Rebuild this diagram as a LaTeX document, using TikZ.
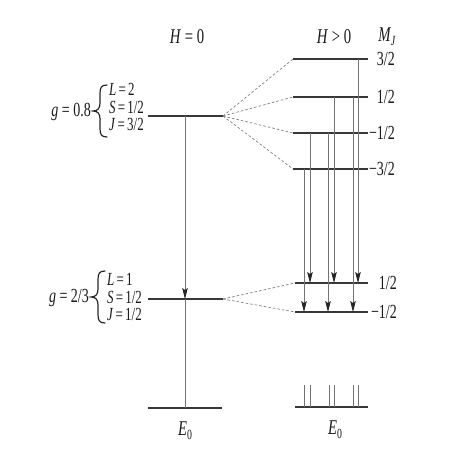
\documentclass[tikz,border=0pt]{standalone}
\usepackage{fontspec}
\setmainfont[FakeStretch=0.7]{Liberation Serif}
\usetikzlibrary{arrows.meta}
\newcommand{\subsc}[1]{\raisebox{-0.4ex}{\fontsize{14}{14}\selectfont #1}}
\newcommand{\eqs}{\kern0.12em=\kern0.12em}
\begin{document}
\begin{tikzpicture}[x=1pt,y=-1pt,
  every node/.style={inner sep=0pt, text=black!90, font=\fontsize{20}{15}\selectfont},
  big/.style={font=\fontsize{21}{16}\selectfont},
  rows/.style={font=\fontsize{18.5}{16}\selectfont},
  lvl/.style={line width=1.4pt, draw=black!78},
  vline/.style={line width=0.7pt, draw=black!55},
  trans/.style={vline, -{Stealth[length=11pt,width=5.5pt,inset=2pt,color=black!85]}},
  link/.style={line width=0.7pt, draw=black!50, dash pattern=on 2.6pt off 2pt},
  tick/.style={line width=0.7pt, draw=black!55},
  qn/.style={rows, anchor=base west},
  pics/curlybrace/.style={code={
    \draw[line width=1.2pt, black!85, line cap=round]
      (7,-26) .. controls (1,-26) and (0,-23) .. (0,-17) -- (0,-8)
      .. controls (0,-3) and (-2,0) .. (-7,0)
      .. controls (-2,0) and (0,3) .. (0,8) -- (0,17)
      .. controls (0,23) and (1,26) .. (7,26);
  }}
]
\useasboundingbox (0,0) rectangle (459,454);

% ---- left column (H = 0)
\coordinate (uL) at (148,116); \coordinate (uR) at (223,116);
\coordinate (lL) at (148,299); \coordinate (lR) at (223,299);
\coordinate (eL) at (148,408); \coordinate (eR) at (222,408);
\coordinate (lv) at (185,116);
\draw[lvl] (uL) -- (uR);
\draw[lvl] (lL) -- (lR);
\draw[lvl] (eL) -- (eR);
\draw[trans] (lv) -- (lv |- lL);
\draw[vline] (lv |- lL) -- (lv |- eL);

\node[big, anchor=base] (h0) at (187,44) {\textit{H} = 0};
\node[big] (e0a) at (185,431) {\textit{E}\subsc{0}};

% upper term
\node[anchor=base east] (g1) at (91,117) {\textit{g} = 0.8};
\coordinate (br1) at (100,111);
\pic at (br1) {curlybrace};
\node[qn] (q1) at (109,96) {\begin{tabular}[t]{@{}l@{}}\textit{L}\eqs 2\\ \textit{S}\eqs 1/2\\ \textit{J}\eqs 3/2\end{tabular}};
% lower term
\node[anchor=base east] (g2) at (89,303) {\textit{g} = 2/3};
\coordinate (br2) at (98,297);
\pic at (br2) {curlybrace};
\node[qn] (q2) at (107,286) {\begin{tabular}[t]{@{}l@{}}\textit{L}\eqs 1\\ \textit{S}\eqs 1/2\\ \textit{J}\eqs 1/2\end{tabular}};

% ---- right column (H > 0)
\node[big, anchor=base] (hp) at (334,44) {\textit{H} > 0};
\node[big, anchor=base] (mj) at (387,42) {\textit{M}\kern-0.5pt\subsc{\textit{J}}};

\foreach \n/\y/\t in {a1/59/{3/2}, a2/97/{1/2}, a3/133/{−1/2}, a4/169/{−3/2}}{
  \coordinate (\n) at (293,\y); \coordinate (\n e) at (368,\y);
  \draw[lvl] (\n) -- (\n e);
  \node[anchor=east] (\n t) at (395,\y) {\t};
}
\foreach \n/\y/\t in {b1/283/{1/2}, b2/312/{−1/2}}{
  \coordinate (\n) at (295,\y); \coordinate (\n e) at (368,\y);
  \draw[lvl] (\n) -- (\n e);
  \node[anchor=east] (\n t) at (397,\y) {\t};
}
\coordinate (e2) at (295,407); \coordinate (e2e) at (368,407);
\draw[lvl] (e2) -- (e2e);
\node[big] (e0b) at (335,430) {\textit{E}\subsc{0}};

% dashed links
\foreach \n in {a1,a2,a3,a4} \draw[link] (uR) -- (\n);
\foreach \n in {b1,b2} \draw[link] (lR) -- (\n);

% transitions
\coordinate (t1) at (358,59);
\coordinate (t2) at (334,97);
\coordinate (t3) at (353,97);
\coordinate (t4) at (310,133);
\coordinate (t5) at (328,133);
\coordinate (t6) at (304,169);
\draw[trans] (t1) -- (t1 |- b1);
\draw[trans] (t2) -- (t2 |- b1);
\draw[trans] (t3) -- (t3 |- b2);
\draw[trans] (t4) -- (t4 |- b1);
\draw[trans] (t5) -- (t5 |- b2);
\draw[trans] (t6) -- (t6 |- b2);

% spectral ticks
\foreach \x in {304,310,329,334,353,358}{
  \coordinate (k\x) at (\x,385);
  \draw[tick] (k\x) -- (k\x |- e2);
}
\end{tikzpicture}
\end{document}
